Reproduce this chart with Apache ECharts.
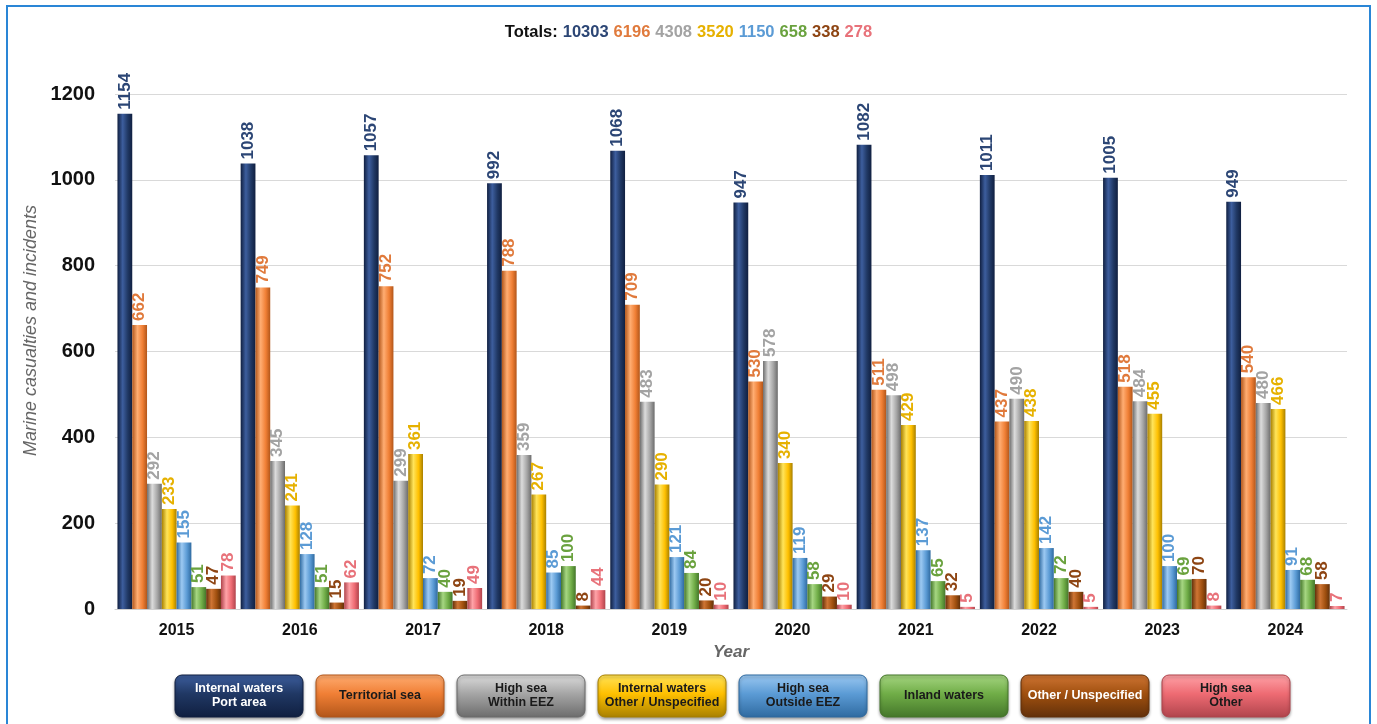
<!DOCTYPE html>
<html>
<head>
<meta charset="utf-8">
<script src="https://cdn.jsdelivr.net/npm/echarts@6/dist/echarts.min.js"></script>
<style>
html,body{margin:0;padding:0;background:#fff;}
#chart{width:1377px;height:724px;}
</style>
</head>
<body>
<div id="chart"></div>
<script>
const years = ['2015','2016','2017','2018','2019','2020','2021','2022','2023','2024'];
const seriesNames = ['Internal waters Port area','Territorial sea','High sea Within EEZ','Internal waters Other / Unspecified','High sea Outside EEZ','Inland waters','Other / Unspecified','High sea Other'];
const legendLabels = ['Internal waters\nPort area','Territorial sea','High sea\nWithin EEZ','Internal waters\nOther / Unspecified','High sea\nOutside EEZ','Inland waters','Other / Unspecified','High sea\nOther'];
const portArea      = [1154,1038,1057,992,1068,947,1082,1011,1005,949];
const territorial   = [662,749,752,788,709,530,511,437,518,540];
const withinEEZ     = [292,345,299,359,483,578,498,490,484,480];
const internalOther = [233,241,361,267,290,340,429,438,455,466];
const outsideEEZ    = [155,128,72,85,121,119,137,142,100,91];
const inland        = [51,51,40,100,84,58,65,72,69,68];
const otherUnspec   = [47,15,19,8,20,29,32,40,70,58];
const highSeaOther  = [78,62,49,44,10,10,5,5,8,7];
const totals = [10303,6196,4308,3520,1150,658,338,278];
const yTicks = [0,200,400,600,800,1000,1200];

const allData = [portArea,territorial,withinEEZ,internalOther,outsideEEZ,inland,otherUnspec,highSeaOther];
const baseColors = ['#203864','#F07F35','#A5A5A5','#FFC000','#5B9BD5','#70AD47','#A0500F','#EE6B73'];
const darkColors = ['#101f40','#b2561a','#6c6c6c','#a88000','#2f6aa0','#44762a','#62300a','#b0444c'];
const lightColors = ['#3d5e9e','#ffad72','#dcdcdc','#ffe45a','#9cc9f2','#a6d682','#cf7534','#ffa3a8'];
const labelColors = ['#2c4675','#e07a3c','#a3a3a3','#e6b100','#5b9bd5','#6aa23e','#8e4513','#e8727a'];
const legendTextColors = ['#ffffff','#1a1a1a','#1a1a1a','#1a1a1a','#1a1a1a','#1a1a1a','#ffffff','#1a1a1a'];

const FONT = 'Arial, "Liberation Sans", sans-serif';

function hGrad(i){
  return new echarts.graphic.LinearGradient(0,0,1,0,[
    {offset:0,color:darkColors[i]},
    {offset:0.35,color:lightColors[i]},
    {offset:0.7,color:baseColors[i]},
    {offset:1,color:darkColors[i]}
  ]);
}
function vGrad(i){
  return new echarts.graphic.LinearGradient(0,0,0,1,[
    {offset:0,color:lightColors[i]},
    {offset:0.45,color:baseColors[i]},
    {offset:1,color:darkColors[i]}
  ]);
}

const series = allData.map((d,i)=>({
  name: seriesNames[i],
  type:'bar',
  data:d,
  barGap:'0%',
  barCategoryGap:'4%',
  itemStyle:{color:hGrad(i)},
  label:{
    show:true,position:'top',rotate:90,align:'left',verticalAlign:'middle',distance:4,
    color:labelColors[i],fontWeight:'bold',fontSize:17,fontFamily:FONT
  }
}));

const rich = {t:{fontWeight:'bold',fontSize:16.5,color:'#111',fontFamily:FONT}};
let titleText = '{t|Totals:}';
totals.forEach((v,i)=>{
  rich['c'+i]={fontWeight:'bold',fontSize:16.5,color:labelColors[i],fontFamily:FONT};
  titleText += ' {c'+i+'|'+v+'}';
});

const legendGraphics = legendLabels.map((txt,i)=>({
  type:'rect',
  shape:{x:175+i*141,y:675,width:128,height:42,r:7},
  style:{fill:vGrad(i),stroke:darkColors[i],lineWidth:1,shadowBlur:3,shadowOffsetY:2,shadowColor:'rgba(0,0,0,0.35)'},
  textContent:{style:{text:txt,fill:legendTextColors[i],font:'bold 12.5px '+FONT,align:'center',verticalAlign:'middle',lineHeight:14}},
  textConfig:{position:'inside'}
}));

const chart = echarts.init(document.getElementById('chart'));
chart.setOption({
  animation:false,
  backgroundColor:'#fff',
  title:{text:titleText,left:'center',top:18,textStyle:{rich:rich}},
  grid:{left:115,right:30,top:94,bottom:115,containLabel:false},
  xAxis:{
    type:'category',data:years,
    name:'Year',nameLocation:'middle',nameGap:35,
    nameTextStyle:{fontStyle:'italic',fontWeight:'bold',fontSize:17,color:'#666',fontFamily:FONT},
    axisLine:{lineStyle:{color:'#d0d0d0',width:1}},
    axisTick:{show:false},
    axisLabel:{fontWeight:'bold',fontSize:16,color:'#111',margin:14,fontFamily:FONT}
  },
  yAxis:{
    type:'value',min:0,max:1200,interval:200,
    name:'Marine casualties and incidents',nameLocation:'middle',nameGap:71,
    nameTextStyle:{fontStyle:'italic',fontSize:18,color:'#666',fontFamily:FONT,padding:[0,0,0,42]},
    axisLine:{show:false},axisTick:{show:false},
    axisLabel:{fontWeight:'bold',fontSize:20,color:'#111',margin:20,fontFamily:FONT,
      formatter:v=>yTicks.includes(v)?String(v):''},
    splitLine:{lineStyle:{color:'#d9d9d9',width:1}}
  },
  legend:{show:false},
  series:series,
  graphic:[
    {type:'rect',shape:{x:7,y:6,width:1363,height:740},style:{fill:'none',stroke:'#2a86d6',lineWidth:2},silent:true,z:100}
  ].concat(legendGraphics)
});
</script>
</body>
</html>
